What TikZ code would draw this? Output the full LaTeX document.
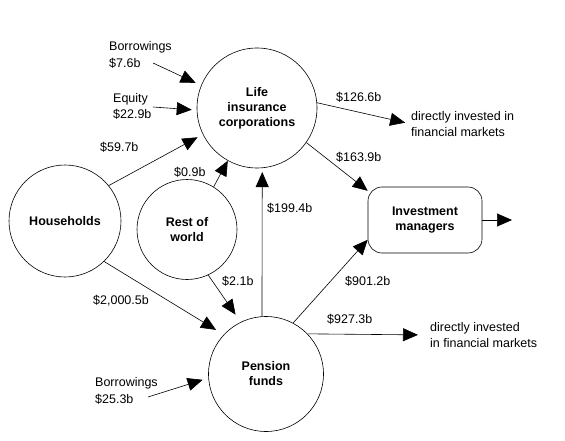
\documentclass[tikz,border=0pt]{standalone}
\usepackage{fontspec}
\setmainfont{Liberation Sans}
\usetikzlibrary{positioning,arrows.meta}
\tikzset{
  sector/.style={circle, draw, line width=0.6pt, inner sep=0pt, align=center, font=\bfseries\fontsize{12.5}{15}\selectfont},
  manager/.style={rectangle, draw, line width=0.6pt, rounded corners=14pt, minimum width=114pt, minimum height=66pt, align=center, font=\bfseries\fontsize{12.5}{15}\selectfont},
  amount/.style={anchor=west, inner sep=0pt, align=left, font=\fontsize{12.5}{16.5}\selectfont},
  flow/.style={-{Triangle[length=15pt,width=13pt]}, line width=0.6pt}
}

\begin{document}
\begin{tikzpicture}[x=1pt, y=-1pt]
\useasboundingbox (0,0) rectangle (565,441);

% sectors
\node[sector, minimum size=120pt] (life) at (257,108) {Life\\insurance\\corporations};
\node[sector, minimum size=112pt] (hh) at (65,221) {Households};
\node[sector, minimum size=100pt] (row) at (187,229.5) {Rest of\\world};
\node[sector, minimum size=115pt] (pen) at (266,374) {Pension\\funds};
\node[manager] (im) at (425,220) {Investment\\managers};

% sources and destinations
\node[amount] (borlife) at (109,55) {Borrowings\\\$7.6b};
\node[amount] (eqlife) at (113,106.5) {Equity\\\$22.9b};
\node[amount] (dirlife) at (411,124) {directly invested in\\financial markets};
\node[amount] (dirpen) at (430,335) {directly invested\\in financial markets};
\node[amount] (borpen) at (95,391) {Borrowings\\\$25.3b};
\coordinate (borlifeend) at (153,63);
\coordinate (eqlifeend) at (153,107);
\coordinate (borpenend) at (148,397);
\coordinate (out) at (512,220);

% flows
\draw[flow, shorten >=6pt] (borlifeend) -- (life.158);
\draw[flow, shorten >=5pt] (eqlifeend) -- (life.182);
\draw[flow, shorten >=6pt] (hh.39) -- (life.206);
\draw[flow] (row.58) -- (life.241);
\draw[flow, shorten >=4pt] (pen.94) -- (life.275);
\draw[flow, shorten >=6pt] (life.5) -- (dirlife.west);
\draw[flow] (life.-35) -- (im.153);
\draw[flow] (pen.62) -- (im.199);
\draw[flow, shorten >=12pt] (pen.44) -- (dirpen.west);
\draw[flow, shorten >=9pt] (hh.-46) -- (pen.137);
\draw[flow, shorten >=9pt] (row.-65) -- (pen.116);
\draw[flow, shorten >=6pt] (borpenend) -- (pen.184);
\draw[flow] (im) -- (out);

% amounts
\node[amount] (a597) at (100,147) {\$59.7b};
\node[amount] (a09) at (174,172) {\$0.9b};
\node[amount] (a1994) at (267,208) {\$199.4b};
\node[amount] (a1266) at (336,97) {\$126.6b};
\node[amount] (a1639) at (336,157) {\$163.9b};
\node[amount] (a9012) at (345,281) {\$901.2b};
\node[amount] (a9273) at (327,319) {\$927.3b};
\node[amount] (a20005) at (93,301) {\$2,000.5b};
\node[amount] (a21) at (222,281) {\$2.1b};
\end{tikzpicture}
\end{document}
